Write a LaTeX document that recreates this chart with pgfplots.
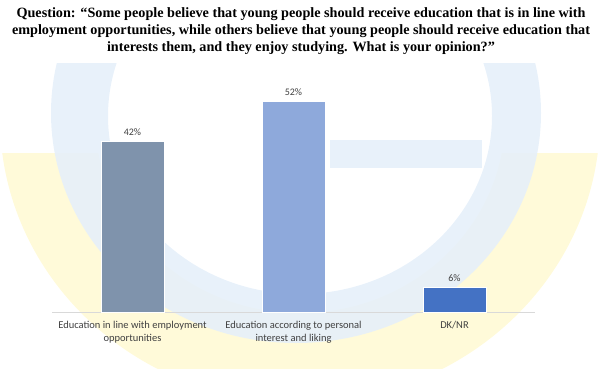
\documentclass[border=0pt]{standalone}
\usepackage{pgfplots}
\pgfplotsset{compat=1.18}
\usepackage{fontspec}
\setmainfont{Carlito}
\newfontfamily\titlefont{Liberation Serif}
\definecolor{barA}{HTML}{7F93AC}
\definecolor{barB}{HTML}{8EA9DB}
\definecolor{barC}{HTML}{4472C4}
\definecolor{lbl}{HTML}{404040}
\definecolor{ringblue}{HTML}{E6F0FA}
\definecolor{glowyellow}{HTML}{FFFAD9}
\begin{document}
\begin{tikzpicture}[x=1pt,y=1pt]
\path[use as bounding box] (0,0) rectangle (602,368);
% faint watermark
\begin{scope}
\clip (0,0) rectangle (602,215);
\fill[glowyellow, even odd rule] (300,250) ellipse [x radius=300, y radius=285] (300,250) ellipse [x radius=205, y radius=195];
\end{scope}
\begin{scope}
\clip (0,0) rectangle (602,305);
\fill[ringblue, opacity=0.9, even odd rule] (296,255) ellipse [x radius=245, y radius=230] (300,252) ellipse [x radius=192, y radius=178];
\fill[ringblue, opacity=0.9] (330,228) rectangle (482,200);
\end{scope}
\node[align=center, font=\titlefont\bfseries\fontsize{14.2}{17}\selectfont, anchor=center] at (301,337)
{Question: “Some people believe that young people should receive education that is in line with\\
employment opportunities, while others believe that young people should receive education that\\
interests them, and they enjoy studying. What is your opinion?”};
\begin{axis}[
  at={(52pt,56pt)}, anchor=south west,
  scale only axis, width=483pt, height=243.6pt,
  xmin=-0.5, xmax=2.5, ymin=0, ymax=60,
  axis y line=none, axis x line*=bottom,
  x axis line style={draw=black!15, line width=0.8pt, -},
  xtick={0,1,2}, major tick length=0pt,
  xticklabels={{Education in line with employment\\opportunities},{Education according to personal\\interest and liking},{DK/NR}},
  xticklabel style={align=center, font=\fontsize{10.5}{12.5}\selectfont, text=lbl, yshift=-6pt},
  ybar, bar width=63pt, bar shift=0pt,
  /pgf/number format/assume math mode=true,
  nodes near coords={\pgfmathprintnumber{\pgfplotspointmeta}\%},
  nodes near coords style={font=\fontsize{10}{11}\selectfont, text=lbl, yshift=2pt},
  clip=false,
]
\addplot[fill=barA, draw=white, line width=0.6pt] coordinates {(0,42)};
\addplot[fill=barB, draw=white, line width=0.6pt] coordinates {(1,52)};
\addplot[fill=barC, draw=white, line width=0.6pt] coordinates {(2,6)};
\end{axis}
\end{tikzpicture}
\end{document}
